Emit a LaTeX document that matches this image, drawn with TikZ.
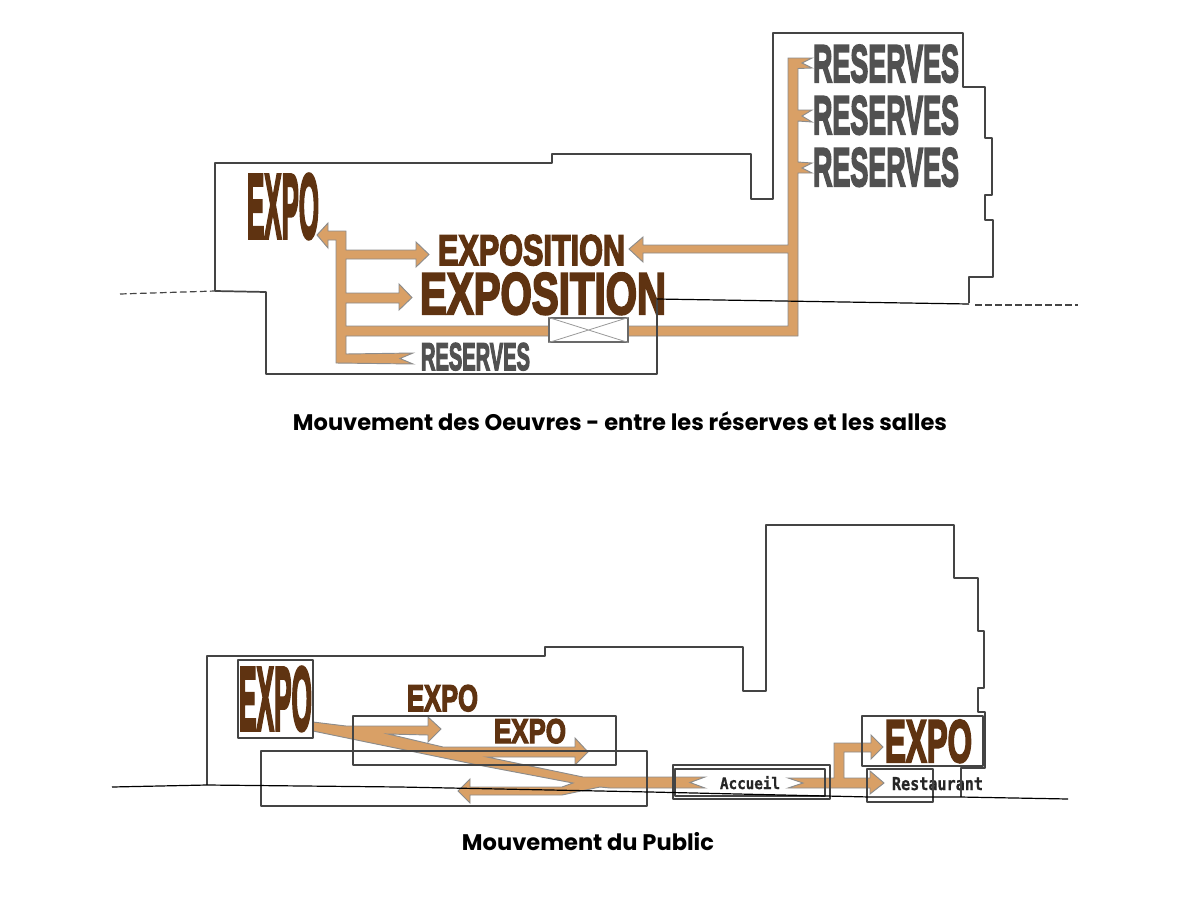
\documentclass[tikz,border=0pt]{standalone}
\usepackage{graphicx}
\usepackage{fontspec}
\setmainfont{Liberation Sans}
\newfontfamily\impactf[FakeBold=4]{Liberation Sans}
\newfontfamily\capf{Poppins}
\newfontfamily\handf[FakeBold=1]{DejaVu Sans Mono}
\definecolor{tan}{HTML}{D9A066}
\definecolor{brun}{HTML}{5F3311}
\definecolor{gristxt}{HTML}{515151}
\definecolor{mur}{HTML}{444444}
\tikzset{
  wall/.style={draw=mur,line width=1.3pt,line join=round},
  ground/.style={draw=black,line width=0.9pt},
  dashedground/.style={draw=mur,line width=0.9pt,dash pattern=on 5pt off 2.5pt},
  flow/.style={fill=tan,draw=gray!90,line width=0.7pt,line join=miter},
  zone/.style={draw=mur,line width=1.1pt,line join=round},
  fit/.style={inner sep=0pt,outer sep=0pt,anchor=north west}
}
% \fitted{name}{x}{y}{w}{h}{colour}{font}{text}: x,y top-left, in pixels
\newcommand{\fitted}[8]{\node[fit,text=#6] (#1) at (#2,#3) {\resizebox{#4\dimexpr0.75pt\relax}{#5\dimexpr0.75pt\relax}{#7#8}};}
\begin{document}
\begin{tikzpicture}[x=0.75pt,y=-0.75pt]
\useasboundingbox (0,0) rectangle (1200,900);
% ---------- upper section: flows
\draw[flow] (317,235) -- (328,223) -- (328,231) -- (346,231) -- (346,250) -- (416,250) -- (416,242) -- (429,254.5) -- (416,267) -- (416,259) -- (346,259)
  -- (346,293) -- (399,293) -- (399,284) -- (412,297.5) -- (399,310) -- (399,303) -- (346,303)
  -- (346,326) -- (788,326) -- (788,253) -- (643,253) -- (643,262) -- (629,249) -- (643,237) -- (643,245) -- (788,245)
  -- (788,58) -- (812,58) -- (802,63) -- (812,68) -- (798,68.5)
  -- (798,110) -- (812,110) -- (802,116) -- (812,122) -- (798,121)
  -- (798,162) -- (812,163) -- (802,168) -- (812,173) -- (798,173)
  -- (798,336) -- (346,336) -- (346,354) -- (413,353) -- (400,358.5) -- (413,364) -- (336,363) -- (336,240) -- (328,240) -- (328,248) -- cycle;
% ---------- upper section: labels
\fitted{expoA}{247}{174}{72}{64}{brun}{\impactf\bfseries}{EXPO}
\fitted{expositionA}{438}{235}{187}{30}{brun}{\impactf\bfseries}{EXPOSITION}
\fitted{expositionB}{420}{273}{246}{41}{brun}{\impactf\bfseries}{EXPOSITION}
\fitted{reservesA}{421}{343}{109}{27}{gristxt}{\impactf\bfseries}{RESERVES}
\fitted{reservesB}{813}{45}{146}{37}{gristxt}{\impactf\bfseries}{RESERVES}
\fitted{reservesC}{813}{96}{146}{38}{gristxt}{\impactf\bfseries}{RESERVES}
\fitted{reservesD}{813}{148}{146}{38}{gristxt}{\impactf\bfseries}{RESERVES}
\node[draw=mur!80,fill=white,line width=0.9pt,minimum width=59.25pt,minimum height=18pt,inner sep=0pt] (monte) at (588.5,330) {};
\draw[gray!80,line width=0.6pt] (monte.north west) -- (monte.south east) (monte.south west) -- (monte.north east);
% ---------- upper section: building
\draw[wall] (215,291) -- (215,163) -- (552,163) -- (552,154) -- (751,154) -- (751,199) -- (773,199) -- (773,33) -- (963,33) -- (963,87) -- (985,87) -- (985,138) -- (992,138) -- (992,195) -- (985,195) -- (985,220) -- (993,220) -- (993,277) -- (969,277) -- (969,303);
\draw[wall] (215,291) -- (266,292) -- (266,374) -- (657,374) -- (657,299);
\draw[ground] (657,299) -- (969,304);
\draw[dashedground] (120,294) -- (215,291);
\draw[dashedground] (975,305) -- (1078,305);
\node[inner sep=0pt] (capA) at (620,421) {\resizebox{490.5pt}{!}{\capf\bfseries Mouvement des Oeuvres - entre les réserves et les salles}};
% ---------- lower section: flows
\draw[flow] (313,722) -- (346,726) -- (428,726) -- (428,717) -- (441,729) -- (428,742) -- (428,735) -- (388,734) -- (443,747) -- (575,747) -- (575,738) -- (588,752) -- (575,765) -- (575,757) -- (487,757) -- (583,777) -- (705,777) -- (690,782.5) -- (705,788) -- (610,788) -- (600,787) -- (562,795) -- (470,795) -- (470,803) -- (458,791) -- (470,779) -- (470,787) -- (562,787) -- (573,783) -- (478,765) -- (313,731) -- cycle;
\draw[flow] (788,778) -- (834,778) -- (834,743) -- (871,743) -- (871,735) -- (883,747) -- (871,759) -- (871,752) -- (844,752) -- (844,778) -- (870,778) -- (870,771) -- (884,783) -- (870,794) -- (870,788) -- (788,788) -- (803,783) -- cycle;
% ---------- lower section: labels
\fitted{expoB}{239}{667}{73}{63}{brun}{\impactf\bfseries}{EXPO}
\fitted{expoC}{407}{685}{71}{26}{brun}{\impactf\bfseries}{EXPO}
\fitted{expoD}{494}{719}{72}{24}{brun}{\impactf\bfseries}{EXPO}
\fitted{expoE}{885}{720}{87}{42}{brun}{\impactf\bfseries}{EXPO}
\fitted{accueil}{720}{776}{60}{13}{black!85}{\handf\bfseries}{Accueil}
\fitted{restaurant}{892}{777}{91}{13}{black!85}{\handf\bfseries}{Restaurant}
% ---------- lower section: zones
\node[zone,fit,minimum width=56.25pt,minimum height=58.5pt] (zoneA) at (238,660) {};
\node[zone,fit,minimum width=197.25pt,minimum height=36.75pt] (zoneB) at (353,716) {};
\node[zone,fit,minimum width=289.5pt,minimum height=41.25pt] (zoneC) at (261,751) {};
\node[zone,fit,minimum width=117.75pt,minimum height=25.5pt] (zoneD) at (673,765) {};
\node[zone,fit,minimum width=112.5pt,minimum height=20.25pt] (zoneE) at (675,769) {};
\node[zone,fit,minimum width=49.5pt,minimum height=24.75pt] (zoneF) at (867,769) {};
\node[zone,fit,minimum width=90.75pt,minimum height=37.5pt] (zoneG) at (862,716) {};
% ---------- lower section: building
\draw[wall] (207,785) -- (207,656) -- (545,656) -- (545,647) -- (743,647) -- (743,691) -- (766,691) -- (766,525) -- (954,525) -- (954,578) -- (978,578) -- (978,631) -- (984,631) -- (984,688) -- (978,688) -- (978,712) -- (985,712) -- (985,768) -- (961,768) -- (961,797);
\draw[ground] (112,787) -- (207,785) -- (400,787) -- (650,792) -- (870,797) -- (960,797) -- (1068,799);
\node[inner sep=0pt] (capB) at (588,842) {\resizebox{189pt}{!}{\capf\bfseries Mouvement du Public}};
\end{tikzpicture}
\end{document}
